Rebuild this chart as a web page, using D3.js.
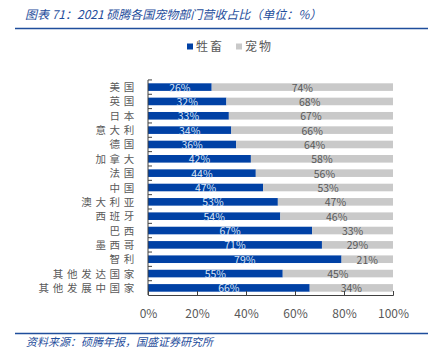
<!DOCTYPE html>
<html>
<head>
<meta charset="utf-8">
<script src="https://cdn.jsdelivr.net/npm/d3@7"></script>
<style>
body { margin: 0; background: #fff; }
text { font-family: "Noto Sans CJK SC", "Noto Sans", sans-serif; }
</style>
</head>
<body>
<div class="chart"></div>
<script>
//Width and height
var w = 437;
var h = 352;

//Data
var countries = ["美国", "英国", "日本", "意大利", "德国", "加拿大", "法国", "中国",
    "澳大利亚", "西班牙", "巴西", "墨西哥", "智利", "其他发达国家", "其他发展中国家"];
var livestock = [26, 32, 33, 34, 36, 42, 44, 47, 53, 54, 67, 71, 79, 55, 66];
var pets = [74, 68, 67, 66, 64, 58, 56, 53, 47, 46, 33, 29, 21, 45, 34];
var seriesNames = ["牲畜", "宠物"];
var xTicks = [0, 20, 40, 60, 80, 100];

var blue = "#0041a5";
var grey = "#c9c9c9";
var textGrey = "#595959";
var titleBlue = "#1f4e9c";

var svg = d3.select(".chart")
    .append("svg")
    .attr("width", w)
    .attr("height", h);

//Title and frame lines
svg.append("text")
    .attr("x", 25)
    .attr("y", 19)
    .attr("fill", titleBlue)
    .attr("font-size", 12)
    .attr("font-style", "italic")
    .text("图表 71：2021 硕腾各国宠物部门营收占比（单位：%）");

svg.append("line")
    .attr("x1", 15).attr("x2", 428)
    .attr("y1", 28.5).attr("y2", 28.5)
    .attr("stroke", titleBlue)
    .attr("stroke-width", 1.5);

svg.append("line")
    .attr("x1", 15).attr("x2", 428)
    .attr("y1", 333.5).attr("y2", 333.5)
    .attr("stroke", titleBlue)
    .attr("stroke-width", 1.5);

svg.append("text")
    .attr("x", 26)
    .attr("y", 346)
    .attr("fill", titleBlue)
    .attr("font-size", 11)
    .attr("font-style", "italic")
    .text("资料来源：硕腾年报，国盛证券研究所");

//Scales
var xScale = d3.scaleLinear()
    .domain([0, 100])
    .range([148, 393]);

var yScale = d3.scaleBand()
    .domain(countries)
    .range([80, 295])
    .paddingInner(0.47)
    .paddingOuter(0.23);

//Legend
var legend = svg.append("g").attr("transform", "translate(187, 47)");
[blue, grey].forEach(function (c, i) {
    var g = legend.append("g").attr("transform", "translate(" + (i * 49) + ", 0)");
    g.append("rect")
        .attr("x", 0).attr("y", -3.5)
        .attr("width", 6).attr("height", 6)
        .attr("fill", c);
    g.append("text")
        .attr("x", 9).attr("y", 4)
        .attr("fill", textGrey)
        .attr("font-size", 12)
        .attr("letter-spacing", 2)
        .text(seriesNames[i]);
});

//Bars
var rows = svg.selectAll(".row")
    .data(countries)
    .enter()
    .append("g")
    .attr("class", "row");

rows.append("rect")
    .attr("x", xScale(0))
    .attr("y", (d) => yScale(d))
    .attr("width", (d, i) => xScale(livestock[i]) - xScale(0))
    .attr("height", yScale.bandwidth())
    .attr("fill", blue);

rows.append("rect")
    .attr("x", (d, i) => xScale(livestock[i]))
    .attr("y", (d) => yScale(d))
    .attr("width", (d, i) => xScale(livestock[i] + pets[i]) - xScale(livestock[i]))
    .attr("height", yScale.bandwidth())
    .attr("fill", grey);

rows.append("text")
    .attr("x", (d, i) => xScale(livestock[i] / 2))
    .attr("y", (d) => yScale(d) + yScale.bandwidth() / 2 + 4.5)
    .attr("text-anchor", "middle")
    .attr("fill", "#dce6f5")
    .attr("font-size", 10.5)
    .attr("font-family", "'Open Sans', sans-serif")
    .text((d, i) => livestock[i] + "%");

rows.append("text")
    .attr("x", (d, i) => xScale(livestock[i] + pets[i] / 2))
    .attr("y", (d) => yScale(d) + yScale.bandwidth() / 2 + 4.5)
    .attr("text-anchor", "middle")
    .attr("fill", textGrey)
    .attr("font-size", 10.5)
    .attr("font-family", "'Open Sans', sans-serif")
    .text((d, i) => pets[i] + "%");

//Axes
var xAxis = d3.axisBottom(xScale)
    .tickValues(xTicks)
    .tickSize(-4)
    .tickPadding(14)
    .tickFormat((d) => d + "%");
var gx = svg.append("g")
    .attr("transform", "translate(0, 295)")
    .call(xAxis);
gx.select(".domain").attr("stroke", "#404040");
gx.selectAll(".tick line").attr("stroke", "#404040");
gx.selectAll(".tick text")
    .attr("fill", textGrey)
    .attr("font-size", 12)
    .attr("font-family", "'Open Sans', sans-serif");

//Left axis with boundary ticks between categories
var gy = svg.append("g");
gy.append("line")
    .attr("x1", 148).attr("x2", 148)
    .attr("y1", 80).attr("y2", 295)
    .attr("stroke", "#404040");
var step = yScale.step();
gy.selectAll(".bt")
    .data(d3.range(countries.length))
    .enter()
    .append("line")
    .attr("x1", 148).attr("x2", 152)
    .attr("y1", (i) => yScale(countries[i]) - (step - yScale.bandwidth()) / 2)
    .attr("y2", (i) => yScale(countries[i]) - (step - yScale.bandwidth()) / 2)
    .attr("stroke", "#404040");

svg.selectAll(".cat")
    .data(countries)
    .enter()
    .append("text")
    .attr("x", 138)
    .attr("y", (d) => yScale(d) + yScale.bandwidth() / 2 + 4)
    .attr("text-anchor", "end")
    .attr("fill", textGrey)
    .attr("font-size", 10.5)
    .attr("letter-spacing", 3.7)
    .text((d) => d);
</script>
</body>
</html>
